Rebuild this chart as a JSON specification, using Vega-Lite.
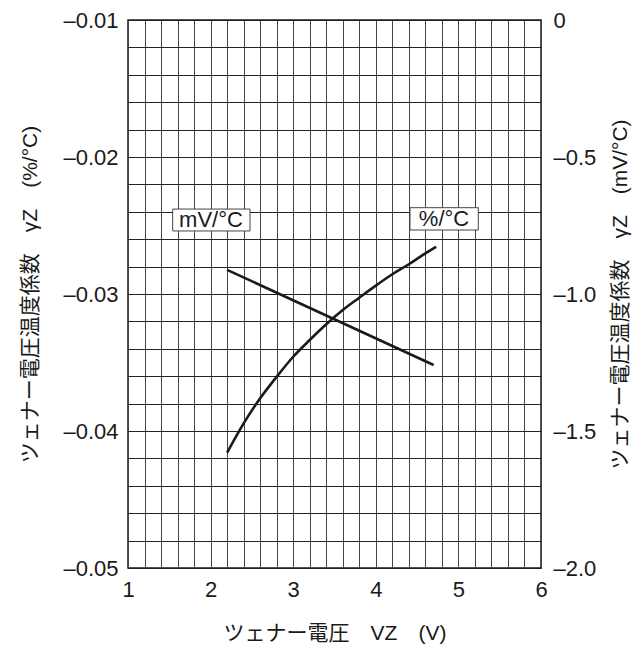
{
  "$schema": "https://vega.github.io/schema/vega-lite/v6.json",
  "autosize": {"type": "none"},
  "padding": {"left": 128, "top": 20, "right": 101, "bottom": 87},
  "width": 413,
  "height": 548,
  "background": "white",
  "config": {
    "font": "Liberation Sans, Noto Sans CJK JP",
    "view": {"stroke": "#1a1a1a", "strokeWidth": 1.5},
    "axis": {
      "labelFont": "Liberation Sans",
      "labelFontSize": 22,
      "labelColor": "#1a1a1a",
      "titleFont": "Liberation Sans, Noto Sans CJK JP",
      "titleFontSize": 21,
      "titleFontWeight": "normal",
      "titleColor": "#1a1a1a",
      "ticks": false,
      "domain": false,
      "labelOverlap": false,
      "labelBound": false,
      "labelFlush": false
    }
  },
  "datasets": {
    "pct": [
      {"vz": 2.2, "pct": -0.04158},
      {"vz": 2.4, "pct": -0.03944},
      {"vz": 2.6, "pct": -0.03761},
      {"vz": 2.8, "pct": -0.03604},
      {"vz": 3.0, "pct": -0.03458},
      {"vz": 3.2, "pct": -0.03336},
      {"vz": 3.4, "pct": -0.03221},
      {"vz": 3.6, "pct": -0.03117},
      {"vz": 3.8, "pct": -0.03027},
      {"vz": 4.0, "pct": -0.02939},
      {"vz": 4.2, "pct": -0.02856},
      {"vz": 4.4, "pct": -0.02783},
      {"vz": 4.6, "pct": -0.02703},
      {"vz": 4.73, "pct": -0.02655}
    ],
    "mv": [
      {"vz": 2.2, "mv": -0.912},
      {"vz": 4.7, "mv": -1.259}
    ],
    "boxes": [
      {"vz": 1.541, "vz2": 2.477, "pct": -0.0238, "pct2": -0.0254},
      {"vz": 4.414, "vz2": 5.241, "pct": -0.0237, "pct2": -0.02533}
    ],
    "labels": [
      {"text": "mV/°C", "vz": 2.005, "pct": -0.0246},
      {"text": "%/°C", "vz": 4.826, "pct": -0.02453}
    ]
  },
  "encoding": {
    "x": {
      "field": "vz", "type": "quantitative",
      "scale": {"domain": [1, 6], "nice": false, "zero": false},
      "axis": {
        "values": [1, 1.2, 1.4, 1.6, 1.8, 2, 2.2, 2.4, 2.6, 2.8, 3, 3.2, 3.4, 3.6, 3.8, 4, 4.2, 4.4, 4.6, 4.8, 5, 5.2, 5.4, 5.6, 5.8, 6],
        "labelExpr": "abs(round(datum.value * 10)) % 10 == 0 ? format(datum.value, 'd') : ''",
        "grid": true, "gridColor": "#444", "gridWidth": 1, "gridOpacity": 1,
        "labelPadding": 11,
        "title": "ツェナー電圧　VZ　(V)",
        "titleX": 206.5, "titleY": 65, "titleBaseline": "middle"
      }
    }
  },
  "layer": [
    {
      "encoding": {
        "y": {
          "field": "pct", "type": "quantitative",
          "scale": {"domain": [-0.05, -0.01], "nice": false, "zero": false},
          "axis": {
            "orient": "left",
            "values": [-0.05, -0.048, -0.046, -0.044, -0.042, -0.04, -0.038, -0.036, -0.034, -0.032, -0.03, -0.028, -0.026, -0.024, -0.022, -0.02, -0.018, -0.016, -0.014, -0.012, -0.01],
            "labelExpr": "abs(round(datum.value * 1000)) % 10 == 0 ? '–' + format(-datum.value, '.2f') : ''",
            "grid": true, "gridColor": "#222", "gridWidth": 1, "gridOpacity": 1,
            "labelPadding": 10,
            "title": "ツェナー電圧温度係数　γZ　(%/°C)",
            "titleX": -98, "titleY": 274, "titleAngle": 270, "titleBaseline": "middle"
          }
        }
      },
      "layer": [
        {
          "data": {"name": "pct"},
          "mark": {"type": "line", "color": "#1a1a1a", "strokeWidth": 2.6, "interpolate": "monotone"}
        },
        {
          "data": {"name": "boxes"},
          "mark": {"type": "rect", "fill": "white", "stroke": "#444", "strokeWidth": 1},
          "encoding": {
            "x2": {"field": "vz2"},
            "y2": {"field": "pct2"}
          }
        },
        {
          "data": {"name": "labels"},
          "mark": {"type": "text", "fontSize": 22, "color": "#1a1a1a", "font": "Liberation Sans", "align": "center", "baseline": "middle"},
          "encoding": {
            "text": {"field": "text"}
          }
        }
      ]
    },
    {
      "data": {"name": "mv"},
      "mark": {"type": "line", "color": "#1a1a1a", "strokeWidth": 2.6},
      "encoding": {
        "y": {
          "field": "mv", "type": "quantitative",
          "scale": {"domain": [-2, 0], "nice": false, "zero": false},
          "axis": {
            "orient": "right",
            "values": [0, -0.5, -1, -1.5, -2],
            "labelExpr": "datum.value == 0 ? '0' : '–' + format(-datum.value, '.1f')",
            "grid": false,
            "labelPadding": 12,
            "title": "ツェナー電圧温度係数　γZ　(mV/°C)",
            "titleX": 79, "titleY": 274, "titleAngle": 270, "titleBaseline": "middle"
          }
        }
      }
    }
  ],
  "resolve": {"scale": {"y": "independent"}}
}
